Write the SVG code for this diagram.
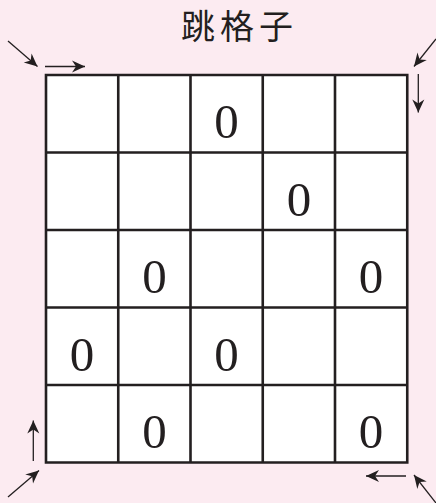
<svg xmlns="http://www.w3.org/2000/svg" width="436" height="503" viewBox="0 0 436 503">
<style>
.grid{fill:none;stroke:#231f20;stroke-width:2.6}
.arr{fill:none;stroke:#231f20;stroke-width:1.3}
.z{font-family:"Liberation Serif",serif;font-size:49px;fill:#231f20;text-anchor:middle}
.title{font-family:"Noto Sans CJK SC",sans-serif;font-size:34px;fill:#231f20;text-anchor:middle;letter-spacing:5px}
</style>
<defs>
<marker id="ah" viewBox="-14 -7 15 14" refX="0" refY="0" markerWidth="15" markerHeight="14" markerUnits="userSpaceOnUse" orient="auto">
<path d="M0,0 L-13,-6 L-9,0 L-13,6 Z" fill="#231f20"/>
</marker>
</defs>
<rect width="436" height="503" fill="#fcebf1"/>
<text class="title" x="239.5" y="39">跳格子</text>
<g id="grid">
<rect x="46" y="75" width="361.25" height="387.5" fill="#ffffff"/>
<path class="grid" d="M46,75H407.25V462.5H46Z M118.25,75V462.5 M190.5,75V462.5 M262.75,75V462.5 M335,75V462.5 M46,152.5H407.25 M46,230H407.25 M46,307.5H407.25 M46,385H407.25"/>
</g>
<g id="cells">
<text class="z" x="226.6" y="138">0</text>
<text class="z" x="298.9" y="215.5">0</text>
<text class="z" x="154.4" y="293">0</text>
<text class="z" x="371.1" y="293">0</text>
<text class="z" x="82.1" y="370.5">0</text>
<text class="z" x="226.6" y="370.5">0</text>
<text class="z" x="154.4" y="448">0</text>
<text class="z" x="371.1" y="448">0</text>
</g>
<g id="connectors">
<line class="arr" x1="8" y1="41" x2="37.5" y2="66.5" marker-end="url(#ah)"/>
<line class="arr" x1="45" y1="66.5" x2="85" y2="66.5" marker-end="url(#ah)"/>
<line class="arr" x1="436" y1="39" x2="414" y2="66.5" marker-end="url(#ah)"/>
<line class="arr" x1="418.3" y1="74" x2="418.3" y2="112.5" marker-end="url(#ah)"/>
<line class="arr" x1="33.3" y1="461" x2="33.3" y2="420.5" marker-end="url(#ah)"/>
<line class="arr" x1="8" y1="497" x2="39" y2="470.5" marker-end="url(#ah)"/>
<line class="arr" x1="406" y1="476" x2="366" y2="476" marker-end="url(#ah)"/>
<line class="arr" x1="436" y1="503" x2="414" y2="475" marker-end="url(#ah)"/>
</g>
</svg>
